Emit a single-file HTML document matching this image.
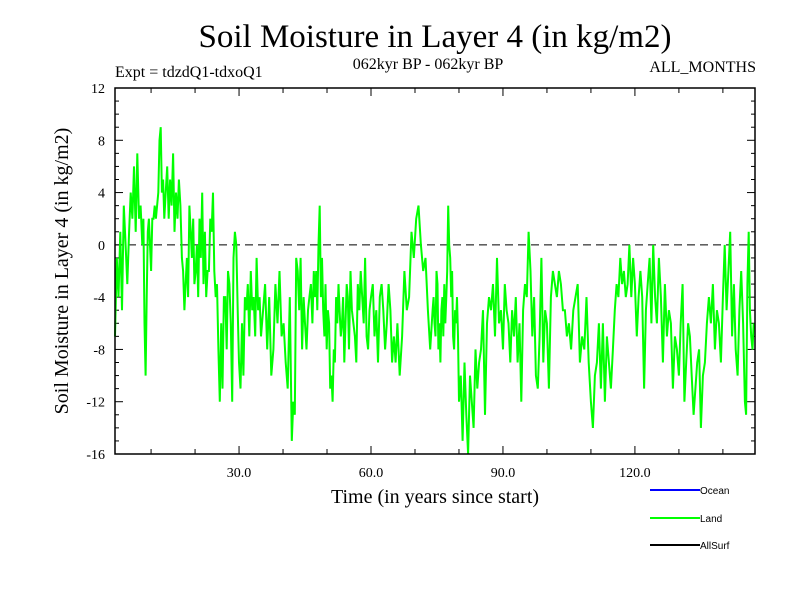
<!DOCTYPE html>
<html><head><meta charset="utf-8"><style>
body{margin:0;background:#fff;}
svg text{font-family:"Liberation Serif",serif;}
</style></head><body>
<svg id="chart" width="800" height="600" xmlns="http://www.w3.org/2000/svg">
<rect width="800" height="600" fill="#fff"/>
<text x="435" y="47" font-size="33" text-anchor="middle">Soil Moisture in Layer 4 (in kg/m2)</text>
<text x="115" y="77" font-size="16">Expt = tdzdQ1-tdxoQ1</text>
<text x="428" y="69" font-size="16" text-anchor="middle">062kyr BP - 062kyr BP</text>
<text x="756" y="72" font-size="16" text-anchor="end">ALL_MONTHS</text>
<text transform="translate(68,271) rotate(-90)" font-size="20" text-anchor="middle">Soil Moisture in Layer 4 (in kg/m2)</text>
<text x="435" y="503" font-size="20" text-anchor="middle">Time (in years since start)</text>
<g id="axes"></g>
<g id="series"></g>
<rect x="115" y="88" width="640" height="366" fill="none" stroke="#000" stroke-width="1.5"/>
<g>
<line x1="650" y1="490" x2="700" y2="490" stroke="#0000ff" stroke-width="2"/>
<text x="700" y="494" font-size="10" style="font-family:'Liberation Sans',sans-serif">Ocean</text>
<line x1="650" y1="518" x2="700" y2="518" stroke="#00ff00" stroke-width="2"/>
<text x="700" y="522" font-size="10" style="font-family:'Liberation Sans',sans-serif">Land</text>
<line x1="650" y1="545" x2="700" y2="545" stroke="#000" stroke-width="2"/>
<text x="700" y="549" font-size="10" style="font-family:'Liberation Sans',sans-serif">AllSurf</text>
</g>
</svg>
<script>
const yTicks = [12, 8, 4, 0, -4, -8, -12, -16];
const xTicks = [30, 60, 90, 120];
const xTickLabels = ["30.0", "60.0", "90.0", "120.0"];
const timeStart = 1.8;
const timeEnd = 147.3;
// start year of each segment of land values (last entry = end year)
const segmentYears = [1.8,5,8,10,13,17,21,25,30,35,42,47,51,55,60,66,74,76,80,85,90,95,100,105,110,115,120,125,130,135,140,145,147.3];
const landSegments = [
[-7,-1,-4,1,-5,3,0,-3],
[1,4,2,6,1,7,2,3],
[0,2,-6,-10,-4,1,2,0],
[-2,2,2,3,2,3,4,8,9,4,5],
[2,4,6,2,5,3,7,1,4,2,5,3],
[-1,-2,-5,-3,-1,-4,3,1,-1,2,-3,-2,0,-4],
[2,-1,4,-3,1,-4,-2,-2,2,1,4,-2,-4],
[-3,-8,-12,-6,-11,-4,-4,-8,-2,-3,-6,-12,-1,1,0,-5],
[-9,-11,-6,-10,-4,-5,-3,-7,-2,-5,-4,-7,-1,-5,-4],
[-7,-5,-3,-8,-4,-10,-8,-3,-6,-2,-7,-6,-9,-11,-4],
[-15,-12,-13,-1,-2,-5,-1,-8,-4,-6,-8,-5,-4,-3,-6],
[-2,-4,-2,-5,0,3,-4,-1,-5,-7,-3,-8,-5,-6,-11],
[-10,-12,-8,-9,-4,-6,-3,-5,-7,-6,-4,-9,-6,-3,-4],
[-8,-2,-5,-6,-7,-9,-3,-5,-2,-4,-6,-1,-7,-8,-5],
[-4,-3,-7,-5,-9,-4,-3,-5,-8,-6,-3,-5,-9,-7,-9],
[-6,-10,-7,-2,-5,-4,1,-1,2,3,0,-2,-1,-5,-8],
[-5,-4,-6,-7,-2,-3,-8,-6,-9],
[-5,-4,-7,-3,-6,-4,-2,3,0,-1,-4,-2,-7,-8,-5,-6,-4,-7],
[-12,-10,-15,-9,-13,-16,-10,-12,-14,-8,-11,-9],
[-8,-5,-13,-6,-4,-5,-3,-7,-1,-6,-5],
[-8,-3,-5,-6,-9,-5,-7,-4,-9,-6,-12,-5],
[-3,-4,1,-2,-7,-4,-10,-11,-7,-1,-9,-5],
[-6,-11,-4,-2,-3,-4,-2,-3,-5,-5,-7],
[-6,-8,-5,-4,-3,-9,-7,-8,-4,-9],
[-12,-14,-10,-9,-6,-11,-6,-12,-7,-9,-11],
[-8,-5,-3,-4,-1,-3,-2,-4,-3,0,-4,-1],
[-3,-7,-4,-2,-4,-11,-5,-3,-1,-6,0,-4],
[-6,-1,-4,-9,-3,-7,-5,-6,-11,-7,-8],
[-10,-6,-3,-12,-9,-6,-7,-10,-13,-11,-9,-8],
[-14,-10,-9,-6,-4,-6,-3,-8,-5,-6,-9],
[-4,0,-5,-2,1,-7,-3,-8,-10,-5,-2,-6],
[-12,-13,-3,1,-5,-7,-8,-6]
];
const NS = "http://www.w3.org/2000/svg";
const L = 115, R = 755, T = 88, B = 454;
function xs(t){ return L + (t - timeStart) / (timeEnd - timeStart) * (R - L); }
function ys(v){ return T + (12 - v) / 28 * (B - T); }
function mk(tag, attrs, parent){
  const el = document.createElementNS(NS, tag);
  for (const k in attrs) el.setAttribute(k, attrs[k]);
  parent.appendChild(el);
  return el;
}
const axes = document.getElementById('axes');
for (let v = -16; v <= 12; v++) {
  const len = (v % 4 === 0) ? 8 : 4;
  const y = ys(v);
  const a = mk('line', {x1: L, y1: y, x2: L + len, y2: y, stroke: '#000', 'stroke-width': 1}, axes);
  
  
  const b = mk('line', {x1: R, y1: y, x2: R - len, y2: y, stroke: '#000', 'stroke-width': 1}, axes);
  
  
}
yTicks.forEach(v => {
  const t = mk('text', {x: 105, y: ys(v) + 5, 'font-size': 14, 'text-anchor': 'end'}, axes);
  t.textContent = String(v);
  
  
});
for (let t = 10; t < timeEnd; t += 10) {
  if (t < timeStart) continue;
  const major = t % 30 === 0;
  const len = major ? 8 : 5;
  const x = xs(t);
  const a = mk('line', {x1: x, y1: B, x2: x, y2: B - len, stroke: '#000', 'stroke-width': 1}, axes);
  
  
  const b = mk('line', {x1: x, y1: T, x2: x, y2: T + len, stroke: '#000', 'stroke-width': 1}, axes);
  
  
}
xTicks.forEach((t, i) => {
  const tx = mk('text', {x: xs(t), y: 477, 'font-size': 14, 'text-anchor': 'middle'}, axes);
  tx.textContent = xTickLabels[i];
  
  
});
const zl = mk('line', {x1: L, y1: ys(0), x2: R, y2: ys(0), stroke: '#000', 'stroke-width': 1, 'stroke-dasharray': '8,5'}, axes);


const series = document.getElementById('series');
const pts = [];
landSegments.forEach((seg, s) => {
  const t0 = segmentYears[s], t1 = segmentYears[s + 1];
  seg.forEach((v, i) => {
    const t = t0 + (t1 - t0) * i / seg.length;
    pts.push(xs(t).toFixed(1) + ',' + ys(v).toFixed(1));
  });
});
const line = mk('polyline', {points: pts.join(' '), fill: 'none', stroke: '#00ff00', 'stroke-width': 2, 'stroke-linejoin': 'miter'}, series);


</script>
</body></html>
